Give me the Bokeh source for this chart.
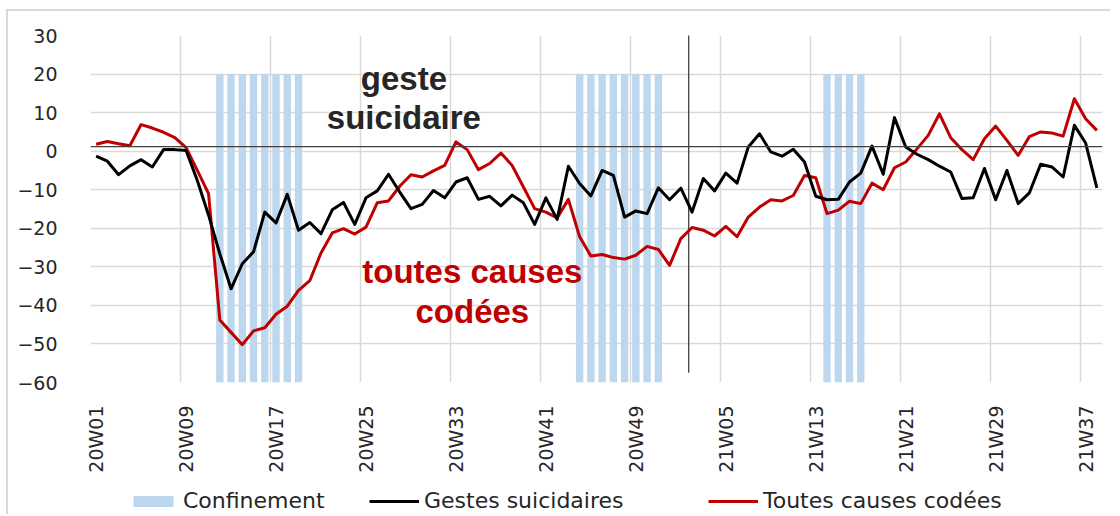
from bokeh.plotting import figure
from bokeh.layouts import column
from bokeh.models import Range1d, FixedTicker, Legend, LegendItem, Span, ColumnDataSource
from bokeh.core.properties import value
from bokeh.embed import file_html
from bokeh.resources import INLINE

# ---------------- data ----------------
weeks = [f"20W{w:02d}" for w in range(1, 53)] + [f"21W{w:02d}" for w in range(1, 39)]

gestes = [-1.3, -2.6, -6.1, -3.8, -2.2, -4.1, 0.4, 0.4, 0.2, -7.6,
          -16.6, -26.6, -35.7, -29.2, -26.1, -15.8, -18.6, -11.2, -20.5, -18.5,
          -21.4, -15.2, -13.3, -19.0, -12.1, -10.3, -6.0, -10.6, -14.9, -13.8,
          -10.2, -12.1, -8.0, -6.9, -12.5, -11.7, -14.2, -11.4, -13.4, -19.0,
          -12.1, -17.7, -3.9, -8.4, -11.6, -5.0, -6.3, -17.1, -15.5, -16.2,
          -9.5, -12.6, -9.6, -15.8, -7.1, -10.3, -5.7, -8.3, 1.1, 4.5,
          -0.2, -1.3, 0.5, -2.8, -11.7, -12.6, -12.5, -8.0, -5.7, 1.3,
          -6.0, 8.7, 1.1, -0.8, -2.2, -3.9, -5.4, -12.3, -12.1, -4.5,
          -12.6, -5.0, -13.6, -10.8, -3.4, -4.1, -6.7, 6.7, 2.1, -9.5]

toutes = [1.8, 2.5, 1.9, 1.4, 6.9, 6.0, 4.9, 3.5, 0.9, -5.0,
          -11.0, -43.8, -47.0, -50.2, -46.6, -45.8, -42.3, -40.2, -36.1, -33.6,
          -26.4, -21.2, -20.1, -21.5, -19.7, -13.4, -12.9, -9.1, -6.1, -6.7,
          -5.1, -3.7, 2.4, 0.4, -4.8, -3.2, -0.5, -3.7, -9.3, -14.9,
          -15.8, -17.3, -12.5, -22.2, -27.2, -26.8, -27.6, -28.0, -27.0, -24.7,
          -25.5, -29.6, -22.7, -19.8, -20.5, -22.0, -19.5, -22.2, -17.1, -14.5,
          -12.6, -12.9, -11.5, -6.3, -6.9, -16.2, -15.3, -13.0, -13.6, -8.3,
          -10.0, -4.3, -2.8, 0.6, 4.1, 9.7, 3.5, 0.4, -2.2, 3.2,
          6.5, 2.8, -1.1, 3.8, 5.0, 4.7, 3.9, 13.6, 8.4, 5.4]

confinement_weeks = ["20W12", "20W13", "20W14", "20W15", "20W16", "20W17", "20W18", "20W19",
                     "20W44", "20W45", "20W46", "20W47", "20W48", "20W49", "20W50", "20W51",
                     "21W14", "21W15", "21W16", "21W17"]
confinement_value = 20

tick_weeks = ["20W01", "20W09", "20W17", "20W25", "20W33", "20W41", "20W49",
              "21W05", "21W13", "21W21", "21W29", "21W37"]
y_ticks = [-60, -50, -40, -30, -20, -10, 0, 10, 20, 30]

annot_text = ["geste", "suicidaire", "toutes causes", "codées"]
annot_x = [27.87, 27.87, 33.96, 33.96]
annot_y = [18.9, 8.8, -31.3, -41.7]
annot_color = ["#262626", "#262626", "#C00000", "#C00000"]

legend_labels = ["Confinement", "Gestes suicidaires", "Toutes causes codées"]

# ---------------- main figure ----------------
FONT = "DejaVu Sans"
W = 1102
p = figure(width=W, height=467, output_backend="svg", toolbar_location=None,
           x_range=Range1d(0, len(weeks)), y_range=Range1d(-60, 30),
           min_border_left=82, min_border_right=8, min_border_top=24, min_border_bottom=96,
           background_fill_color="white", border_fill_color="white")
p.outline_line_color = None

pos = {w: i + 0.5 for i, w in enumerate(weeks)}
xs = [pos[w] for w in weeks]

p.xgrid.ticker = FixedTicker(ticks=[weeks.index(w) for w in tick_weeks])
p.ygrid.ticker = FixedTicker(ticks=y_ticks)
for g in (p.xgrid, p.ygrid):
    g.grid_line_color = "#D9D9D9"
    g.grid_line_width = 1.5

p.xaxis.ticker = FixedTicker(ticks=[pos[w] for w in tick_weeks])
p.xaxis.major_label_overrides = {pos[w]: w for w in tick_weeks}
p.xaxis.major_label_orientation = 1.5707963
p.xaxis.major_label_standoff = 17
p.yaxis.ticker = FixedTicker(ticks=y_ticks)
p.yaxis.major_label_standoff = 27
for ax in (p.xaxis, p.yaxis):
    ax.axis_line_color = None
    ax.major_tick_line_color = None
    ax.minor_tick_line_color = None
    ax.major_label_text_font = FONT
    ax.major_label_text_font_size = "19px"
    ax.major_label_text_color = "#262626"

conf_src = ColumnDataSource(dict(x=[pos[w] for w in confinement_weeks],
                                 top=[confinement_value] * len(confinement_weeks)))
p.vbar(x="x", top="top", bottom=-60, width=0.66, source=conf_src,
       fill_color="#BDD7EE", line_color=None)

p.add_layout(Span(location=1.2, dimension="width", line_color="#404040", line_width=1.3))
p.segment(x0=[53.2], y0=[-57.5], x1=[53.2], y1=[30.8], line_color="#404040", line_width=1.3)

p.line(xs, toutes, line_color="#C00000", line_width=3, line_join="round")
p.line(xs, gestes, line_color="#000000", line_width=3, line_join="round")

p.text(x=annot_x, y=annot_y, text=annot_text, text_color=annot_color,
       text_font=value("Liberation Sans"), text_font_style="bold", text_font_size="33px",
       text_align="center", text_baseline="alphabetic")

# ---------------- legend strip ----------------
LH = 36
q = figure(width=W, height=LH, output_backend="svg", toolbar_location=None,
           x_range=Range1d(0, 10), y_range=Range1d(0, 10),
           x_axis_type=None, y_axis_type=None,
           min_border_left=0, min_border_right=0, min_border_top=0, min_border_bottom=0,
           background_fill_color="white", border_fill_color="white")
q.outline_line_color = None
q.xgrid.visible = False
q.ygrid.visible = False

# legend proxies: one point each, placed outside the visible range
leg_bar = q.vbar(x=[-100], top=[-99], bottom=-100, width=1, fill_color="#BDD7EE", line_color=None)
leg_black = q.line(x=[-100, -99], y=[-100, -100], line_color="#000000", line_width=3)
leg_red = q.line(x=[-100, -99], y=[-100, -100], line_color="#C00000", line_width=3)

# the strip's frame is aligned with the main frame (left edge at page x=90)
for label, rend, vx in zip(legend_labels, [leg_bar, leg_black, leg_red], [38, 279, 618]):
    leg = Legend(items=[LegendItem(label=label, renderers=[rend])], location=(vx, 1),
                 orientation="horizontal", padding=0, margin=0, spacing=0,
                 border_line_color=None, background_fill_alpha=0,
                 glyph_width=50, glyph_height=14, label_height=14, label_standoff=5,
                 label_text_font=FONT, label_text_font_size="22px",
                 label_text_color="#262626", label_text_baseline="middle")
    q.add_layout(leg)

layout = column(p, q, spacing=0,
                styles={"margin-top": "9px", "margin-left": "6px",
                        "border-top": "2px solid #D9D9D9", "border-left": "2px solid #D9D9D9"})

open("out.html", "w").write(file_html(layout, INLINE))
